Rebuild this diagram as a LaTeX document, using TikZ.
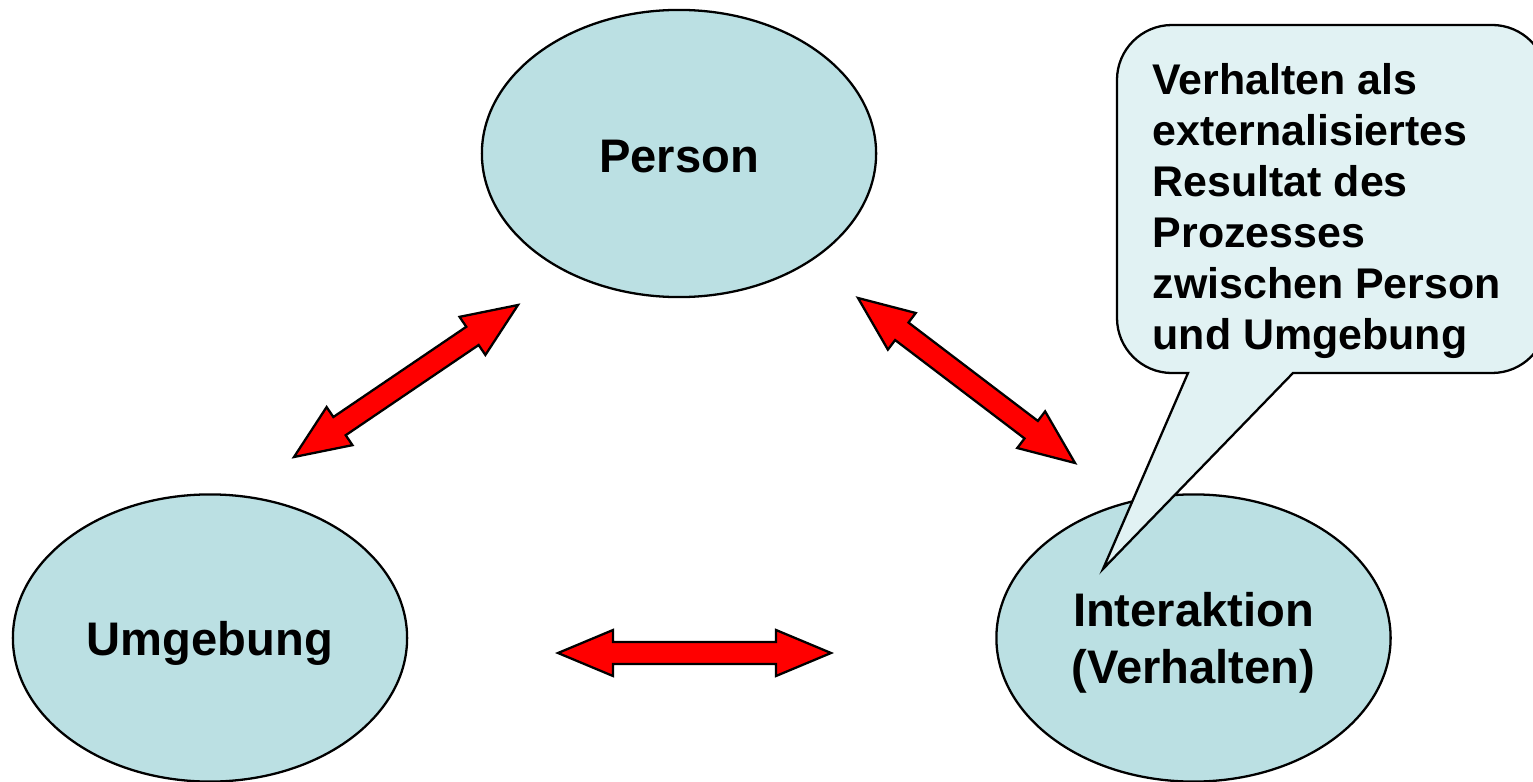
\documentclass[tikz,border=0pt]{standalone}
\usepackage{fontspec}
\setmainfont{Liberation Sans}
\usetikzlibrary{calc,shapes.geometric}
\definecolor{ellfill}{RGB}{187,224,227}
\definecolor{callfill}{RGB}{225,242,243}
\definecolor{arrred}{RGB}{255,0,0}
\tikzset{
  blob/.style={ellipse, draw=black, line width=0.65pt, fill=ellfill, minimum width=3.94cm, minimum height=2.87cm, inner sep=0pt},
  blobtext/.style={align=center, inner sep=0pt, font=\fontsize{13.4}{16.2}\selectfont\bfseries},
  redarrow/.style={fill=arrred, draw=black, line width=0.65pt, line join=miter},
  callout/.style={fill=callfill, draw=black, line width=0.65pt, line join=miter},
  callouttext/.style={align=left, inner sep=0pt, font=\fontsize{12.2}{14.5}\selectfont\bfseries}
}
\newcommand\dblarr[2]{%
 \filldraw[redarrow] (#1)
  -- ($(#1)!0.55cm!(#2)!0.23cm!90:(#2)$)
  -- ($(#1)!0.55cm!(#2)!0.11cm!90:(#2)$)
  -- ($(#2)!0.55cm!(#1)!0.11cm!-90:(#1)$)
  -- ($(#2)!0.55cm!(#1)!0.23cm!-90:(#1)$)
  -- (#2)
  -- ($(#2)!0.55cm!(#1)!0.23cm!90:(#1)$)
  -- ($(#2)!0.55cm!(#1)!0.11cm!90:(#1)$)
  -- ($(#1)!0.55cm!(#2)!0.11cm!-90:(#2)$)
  -- ($(#1)!0.55cm!(#2)!0.23cm!-90:(#2)$)
  -- cycle;}
\begin{document}
\begin{tikzpicture}[x=0.01cm,y=0.01cm]
\useasboundingbox (0,0) rectangle (1533,781);
% ellipses
\node[blob] (person) at (679,627.5) {};
\node[blob] (umgebung) at (210,143) {};
\node[blob] (interaktion) at (1193.5,143) {};
\node[blobtext] (persontext) at ([yshift=-0.03cm]person.center) {Person};
\node[blobtext] (umgebungtext) at ([yshift=-0.05cm]umgebung.center) {Umgebung};
\node[blobtext] (interaktiontext) at ([yshift=-0.05cm]interaktion.center) {Interaktion\\(Verhalten)};
% arrows
\coordinate (a1) at (294,324);
\coordinate (b1) at (518,476);
\coordinate (a2) at (858,483);
\coordinate (b2) at (1075,318);
\coordinate (a3) at (558,128);
\coordinate (b3) at (831,128);
\dblarr{a1}{b1}
\dblarr{a2}{b2}
\dblarr{a3}{b3}
% callout
\coordinate (tip) at (1103,212);
\filldraw[callout] (1293,408) -- (1492,408) arc[start angle=-90,end angle=0,radius=0.55cm]
  -- (1547,701) arc[start angle=0,end angle=90,radius=0.55cm]
  -- (1172,756) arc[start angle=90,end angle=180,radius=0.55cm]
  -- (1117,463) arc[start angle=180,end angle=270,radius=0.55cm]
  -- (1188,408) -- (tip) -- cycle;
\node[callouttext, anchor=west] (note) at (1152,570) {Verhalten als\\externalisiertes\\Resultat des\\Prozesses\\zwischen Person\\und Umgebung};
\end{tikzpicture}
\end{document}
